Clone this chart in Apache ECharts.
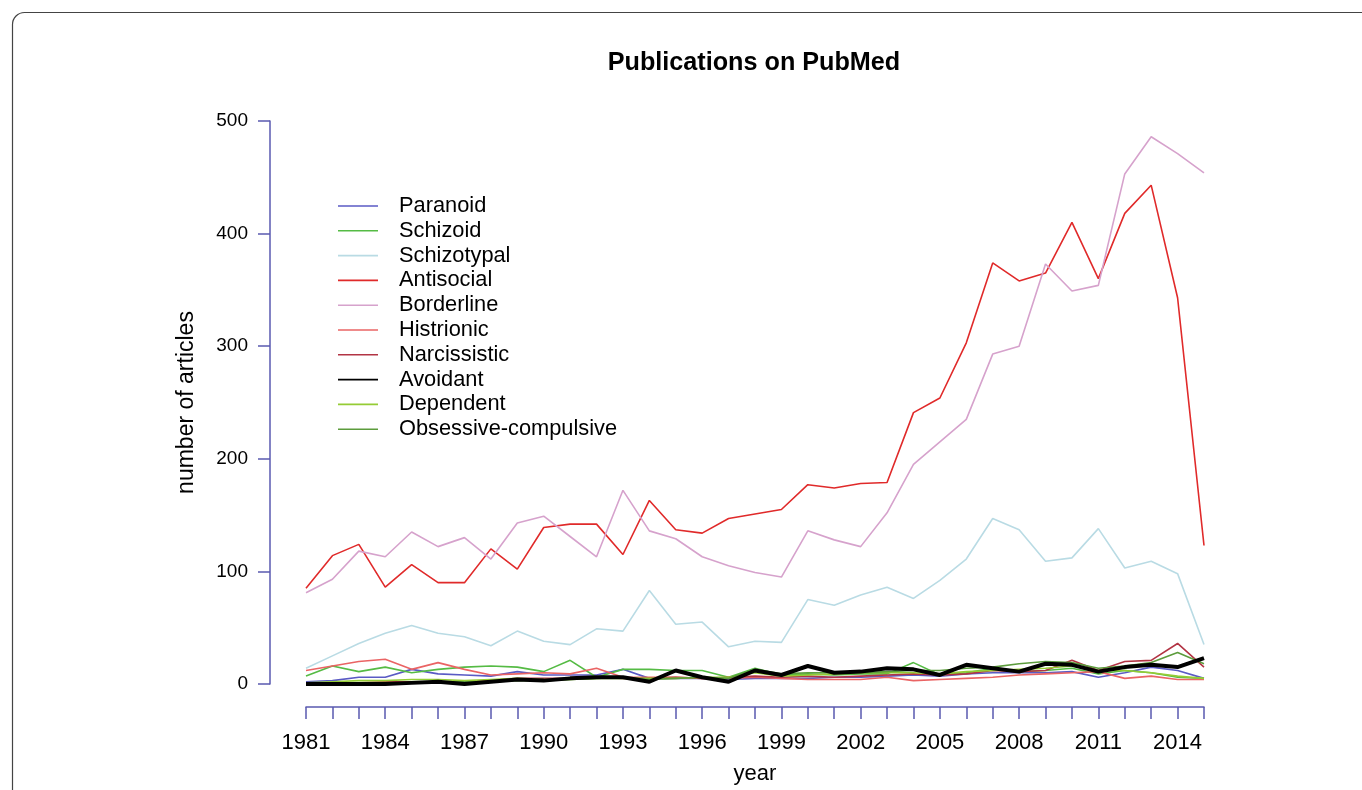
<!DOCTYPE html>
<html>
<head>
<meta charset="utf-8">
<script src="https://cdn.jsdelivr.net/npm/echarts@6/dist/echarts.min.js"></script>
<style>
html,body{margin:0;padding:0;background:#fff;}
#chart{width:1362px;height:790px;}
</style>
</head>
<body>
<div id="chart"></div>
<script>
const years = [1981,1982,1983,1984,1985,1986,1987,1988,1989,1990,1991,1992,1993,1994,1995,1996,1997,1998,1999,2000,2001,2002,2003,2004,2005,2006,2007,2008,2009,2010,2011,2012,2013,2014,2015];
const yTicks = [0,100,200,300,400,500];

const paranoid     = [2,3,6,6,13,9,8,7,11,8,8,8,13,5,5,5,4,5,5,5,6,6,7,8,7,9,10,10,10,11,6,10,15,12,5];
const schizoid     = [7,16,11,15,10,13,15,16,15,11,21,6,13,13,12,12,6,14,8,9,8,9,9,19,8,10,14,11,12,14,9,12,10,6,5];
const schizotypal  = [14,25,36,45,52,45,42,34,47,38,35,49,47,83,53,55,33,38,37,75,70,79,86,76,92,111,147,137,109,112,138,103,109,98,35];
const antisocial   = [85,114,124,86,106,90,90,120,102,139,142,142,115,163,137,134,147,151,155,177,174,178,179,241,254,303,374,358,365,410,360,418,443,343,123];
const borderline   = [81,93,118,113,135,122,130,111,143,149,131,113,172,136,129,113,105,99,95,136,128,122,152,195,215,235,293,300,373,349,354,453,486,471,454];
const histrionic   = [12,16,20,22,13,19,13,8,9,10,9,14,6,6,6,5,5,6,5,4,4,4,6,3,4,5,6,8,9,10,11,5,7,4,4];
const narcissistic = [1,1,1,2,2,2,2,3,5,5,5,6,5,5,6,5,6,7,6,7,6,7,8,9,8,9,12,11,12,21,12,20,21,36,15];
const avoidant     = [0,0,0,0,1,2,0,2,4,3,5,6,6,2,12,6,2,12,8,16,10,11,14,13,8,17,14,11,18,17,11,15,17,15,23];
const dependent    = [1,2,3,3,4,4,3,4,5,4,4,5,5,5,5,6,6,10,7,8,9,10,10,10,9,11,12,13,14,16,12,12,10,7,5];
const obsessive    = [0,0,0,1,1,2,2,2,3,3,4,5,6,4,5,6,5,13,9,10,10,10,11,12,12,14,15,18,20,19,14,16,19,28,18];

const seriesDefs = [
  {name:'Paranoid', data:paranoid, color:'#5a5ac4', width:1.6},
  {name:'Schizoid', data:schizoid, color:'#55bb44', width:1.6},
  {name:'Schizotypal', data:schizotypal, color:'#b9dbe4', width:1.6},
  {name:'Antisocial', data:antisocial, color:'#e02a2a', width:1.6},
  {name:'Borderline', data:borderline, color:'#d6a2cc', width:1.6},
  {name:'Histrionic', data:histrionic, color:'#ea6464', width:1.6},
  {name:'Narcissistic', data:narcissistic, color:'#b23444', width:1.6},
  {name:'Avoidant', data:avoidant, color:'#000000', width:4},
  {name:'Dependent', data:dependent, color:'#95cc35', width:1.6},
  {name:'Obsessive-compulsive', data:obsessive, color:'#5c9c3c', width:1.6}
];

const axisColor = '#5a5ab0';
const fontFam = '"Liberation Sans", Arial, Helvetica, sans-serif';

const chart = echarts.init(document.getElementById('chart'), null, {renderer:'canvas'});
chart.setOption({
  animation:false,
  backgroundColor:'#ffffff',
  textStyle:{fontFamily:fontFam},
  graphic:[{
    type:'rect',
    shape:{x:12.5,y:12.5,width:1400,height:900,r:12},
    style:{fill:'none',stroke:'#444',lineWidth:1.2},
    silent:true
  }],
  title:{
    text:'Publications on PubMed',
    left:749, top:46, textAlign:'center',
    textStyle:{fontSize:25.2,fontWeight:'bold',color:'#000',fontFamily:fontFam}
  },
  legend:{
    orient:'vertical',
    left:338, top:195, padding:0,
    icon:'rect',
    itemWidth:40, itemHeight:1.6, itemGap:2.8,
    formatter: function(n){ return '{s|}' + n; },
    textStyle:{fontSize:21.8,color:'#000',fontFamily:fontFam,lineHeight:20,
      rich:{s:{width:16,lineHeight:20}}},
    data: seriesDefs.map(d=>d.name)
  },
  grid:{left:306, right:158, top:121, bottom:103, containLabel:false},
  xAxis:{
    type:'value', min:1981, max:2015, interval:1,
    offset:23,
    name:'year', nameLocation:'middle', nameGap:56,
    nameTextStyle:{fontSize:22,color:'#000',fontFamily:fontFam},
    axisLine:{show:true,onZero:false,lineStyle:{color:axisColor,width:1.5}},
    axisTick:{show:true,length:12,inside:false,lineStyle:{color:axisColor,width:1.5}},
    axisLabel:{
      show:true, margin:25, fontSize:22, color:'#000', fontFamily:fontFam,
      formatter:function(v){ return ((v-1981)%3===0 && v<=2014) ? String(v) : ''; }
    },
    splitLine:{show:false}
  },
  yAxis:{
    type:'value', min:0, max:500, interval:100,
    offset:36,
    name:'number of articles', nameLocation:'middle', nameGap:72,
    nameTextStyle:{fontSize:23,color:'#000',fontFamily:fontFam},
    axisLine:{show:true,onZero:false,lineStyle:{color:axisColor,width:1.5}},
    axisTick:{show:true,length:12,lineStyle:{color:axisColor,width:1.5}},
    axisLabel:{show:true, margin:22, fontSize:19, color:'#000', fontFamily:fontFam,
      formatter:function(v){ return yTicks.indexOf(v)>=0 ? String(v) : ''; }},
    splitLine:{show:false}
  },
  series: seriesDefs.map(d=>({
    name:d.name, type:'line', symbol:'none', showSymbol:false,
    data: years.map((y,i)=>[y, d.data[i]]),
    lineStyle:{color:d.color,width:d.width},
    itemStyle:{color:d.color},
    z: d.name==='Avoidant' ? 3 : 2,
    emphasis:{disabled:true}
  }))
});
</script>
</body>
</html>
